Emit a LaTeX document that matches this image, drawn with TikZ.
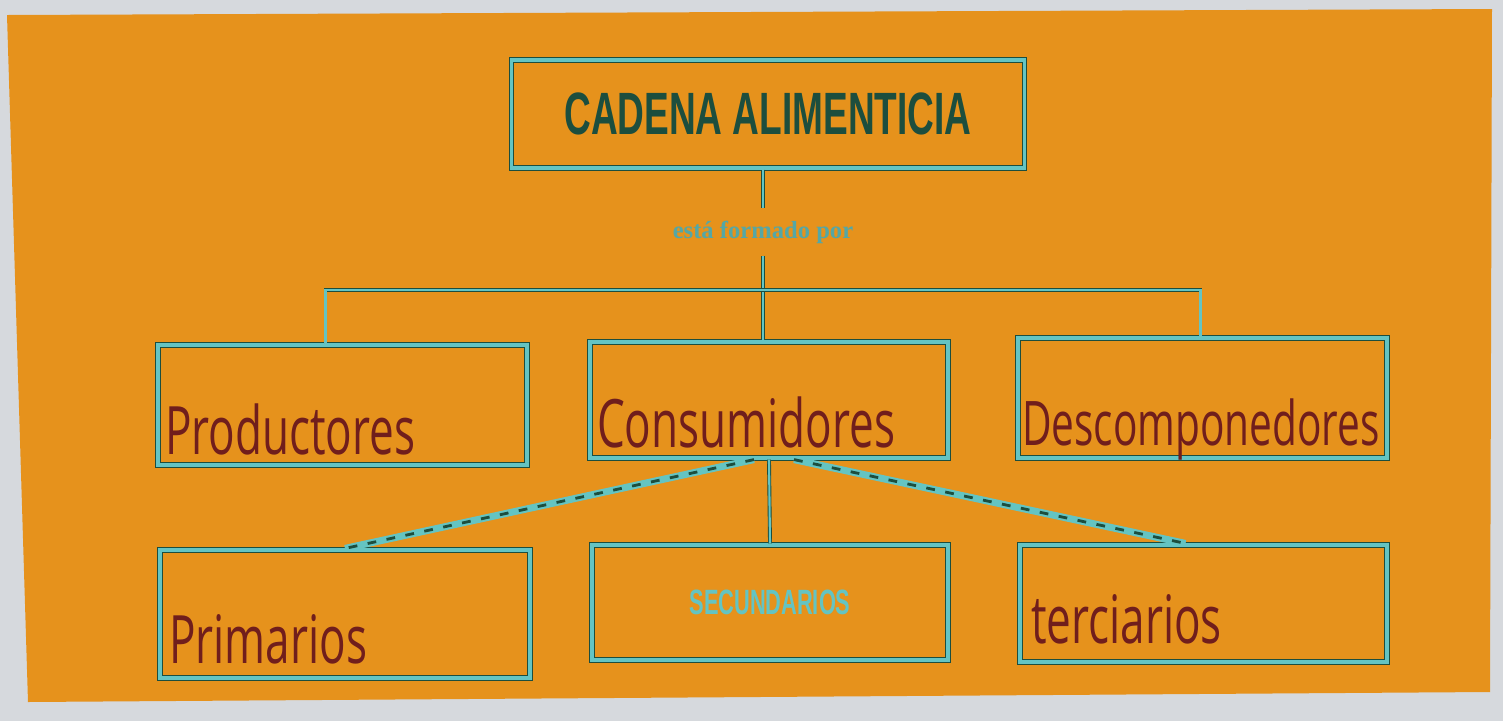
\documentclass[tikz,border=0pt]{standalone}
\usepackage{fontspec}
\usetikzlibrary{calc}
\setmainfont{Liberation Serif}
\newfontfamily\titulofont[FakeStretch=0.62]{Liberation Sans}
\newfontfamily\manofont[FakeStretch=0.66]{Open Sans}
\definecolor{papel}{RGB}{230,146,28}
\definecolor{fondo}{RGB}{214,217,221}
\definecolor{linea}{RGB}{100,196,194}
\definecolor{verdeosc}{RGB}{28,78,62}
\definecolor{tinta}{RGB}{112,30,28}
\tikzset{
  caja/.style={draw=linea, line width=0.9pt, minimum width=#1, inner sep=0pt,
    preaction={draw=verdeosc, line width=1.5pt}},
  conector/.style={draw=linea, line width=0.6pt, preaction={draw=verdeosc, line width=1.1pt}},
  punteado/.style={draw=linea, line width=2pt,
    postaction={draw=verdeosc, line width=0.8pt, dash pattern=on 2.5pt off 3pt}},
  manuscrito/.style={anchor=base west, inner sep=0pt, text=tinta, font=\manofont\fontsize{19}{19}\selectfont},
}
\begin{document}
\begin{tikzpicture}
    % Fondo y papel
    \fill[fondo] (0,0) rectangle (15.03,-7.21);
    \fill[papel] (0.07,-0.15) -- (14.92,-0.09) -- (14.90,-6.92) -- (0.28,-7.02) -- cycle;
    \useasboundingbox (0,0) rectangle (15.03,-7.21);

    % Titulo
    \node[caja=5.13cm, minimum height=1.08cm, text=verdeosc,
      font=\titulofont\bfseries\fontsize{17}{17}\selectfont] (titulo) at (7.68,-1.14) {CADENA ALIMENTICIA};
    \node[text=linea!85!black, font=\bfseries\fontsize{7}{7}\selectfont] (formado) at (7.63,-2.32) {está formado por};

    % Primera fila
    \node[caja=3.69cm, minimum height=1.20cm] (prod) at (3.425,-4.05) {};
    \node[caja=3.58cm, minimum height=1.16cm] (cons) at (7.69,-4.00) {};
    \node[caja=3.69cm, minimum height=1.20cm] (desc) at (12.025,-3.98) {};

    % Segunda fila
    \node[caja=3.70cm, minimum height=1.28cm] (prim) at (3.45,-6.14) {};
    \node[caja=3.56cm, minimum height=1.15cm, text=linea, font=\titulofont\bfseries\fontsize{10}{10}\selectfont] (secu) at (7.70,-6.025) {SECUNDARIOS};
    \node[caja=3.67cm, minimum height=1.17cm] (terc) at (12.035,-6.035) {};

    % Textos a mano
    \node[manuscrito] (prodtxt) at ($(prod.south west)+(0.08,0.12)$) {Productores};
    \node[manuscrito] (constxt) at ($(cons.south west)+(0.08,0.12)$) {Consumidores};
    \node[manuscrito, font=\manofont\fontsize{17.5}{17.5}\selectfont] (desctxt) at ($(desc.south west)+(0.05,0.14)$) {Descomponedores};
    \node[manuscrito] (primtxt) at ($(prim.south west)+(0.10,0.16)$) {Primarios};
    \node[manuscrito] (terctxt) at ($(terc.south west)+(0.12,0.20)$) {terciarios};

    % Conectores
    \coordinate (union) at (7.63,-2.90);
    \draw[conector] (titulo.south -| union) -- (formado.north -| union);
    \draw[conector] (formado.south -| union) -- (union) -- (cons.north -| union);
    \draw[conector] ($(prod.north)+(-0.17,0)$) |- (union) -| ($(desc.north)+(-0.02,0)$);
    \draw[conector] (cons.south) -- (secu.north);
    \draw[punteado] ($(cons.south)+(-0.15,0)$) -- (prim.north);
    \draw[punteado] ($(cons.south)+(0.25,0)$) -- ($(terc.north)+(-0.18,0)$);
\end{tikzpicture}
\end{document}
